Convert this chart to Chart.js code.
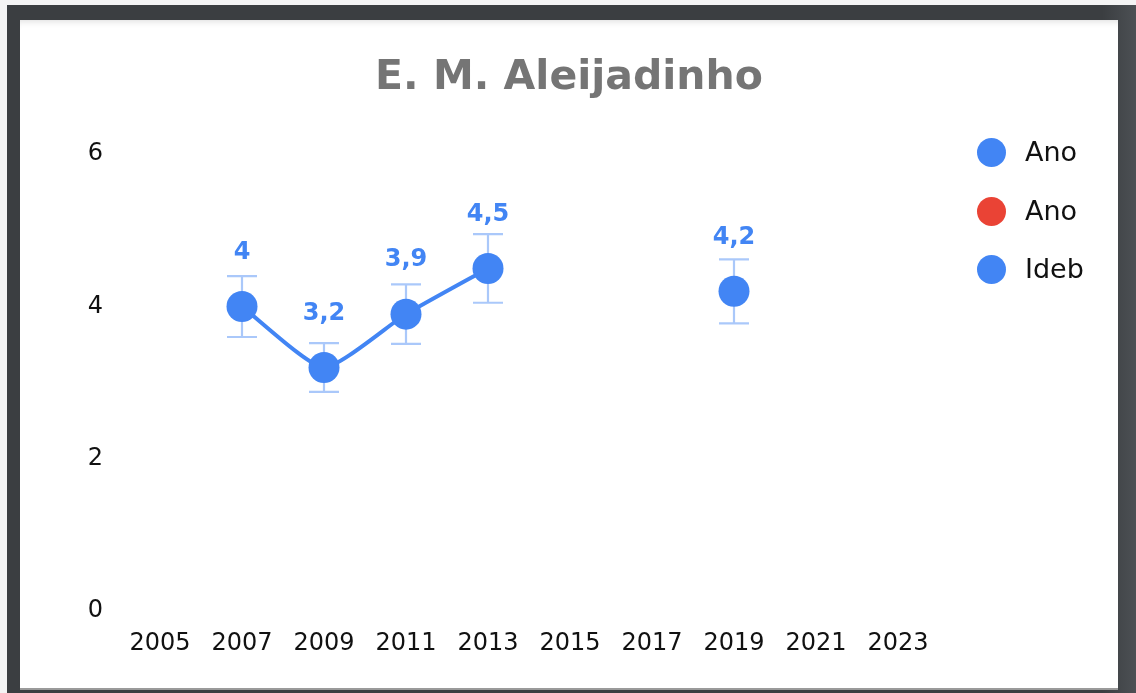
<!DOCTYPE html>
<html>
<head>
<meta charset="utf-8">
<script src="https://cdn.jsdelivr.net/npm/chart.js@4/dist/chart.umd.min.js"></script>
<style>
  html, body { margin: 0; padding: 0; background: #f4f4f4; width: 1136px; height: 693px; overflow: hidden; }
  .frame { position: absolute; left: 7px; top: 5px; right: 0; bottom: 0;
           background: linear-gradient(to right, #3b3e41 0%, #3b3e41 97%, #4c5054 100%); }
  .panel { position: absolute; left: 20px; top: 20px; width: 1098px; height: 670px; background: #fff;
           border-bottom: 2px solid #9a9a9a; box-sizing: border-box;
           box-shadow: inset 0 8px 8px -8px rgba(0,0,0,0.18); }
  canvas#c { position: absolute; left: 0; top: 0; }
  .legend { position: absolute; left: 957px; top: 98px; font-family: "DejaVu Sans", sans-serif; font-size: 27px; color: #111; }
  .legend .item { position: relative; height: 58.5px; }
  .legend .dot { position: absolute; left: 0; top: 20px; width: 29px; height: 29px; border-radius: 50%; }
  .legend .txt { position: absolute; left: 48px; top: 18px; line-height: 32px; white-space: nowrap; }
</style>
</head>
<body>
<div class="frame"></div>
<div class="panel">
  <canvas id="c" width="1098" height="670"></canvas>
  <div class="legend" id="legend"></div>
</div>
<script>
const chartTitle = 'E. M. Aleijadinho';
const years = ['2005', '2007', '2009', '2011', '2013', '2015', '2017', '2019', '2021', '2023'];
const idebValues = [null, 4, 3.2, 3.9, 4.5, null, null, 4.2, null, null];
const idebLow    = [null, 3.6, 2.88, 3.51, 4.05, null, null, 3.78, null, null];
const idebHigh   = [null, 4.4, 3.52, 4.29, 4.95, null, null, 4.62, null, null];
const yTicks = [0, 2, 4, 6];
const seriesLabels = ['Ano', 'Ano', 'Ideb'];
const seriesColors = ['#4285f4', '#ea4335', '#4285f4'];

const BLUE = '#4285f4';
const ERR = 'rgba(66,133,244,0.45)';

const errorBarsPlugin = {
  id: 'errorBars',
  beforeDatasetsDraw(chart) {
    const ctx = chart.ctx;
    const xs = chart.scales.x, ys = chart.scales.y;
    ctx.save();
    ctx.strokeStyle = ERR;
    ctx.lineWidth = 2.2;
    idebValues.forEach((v, i) => {
      if (v === null) return;
      const x = xs.getPixelForValue(i);
      const yl = ys.getPixelForValue(idebLow[i]);
      const yh = ys.getPixelForValue(idebHigh[i]);
      ctx.beginPath();
      ctx.moveTo(x, yl); ctx.lineTo(x, yh);
      ctx.moveTo(x - 15, yl); ctx.lineTo(x + 15, yl);
      ctx.moveTo(x - 15, yh); ctx.lineTo(x + 15, yh);
      ctx.stroke();
    });
    ctx.restore();
  },
  afterDatasetsDraw(chart) {
    const ctx = chart.ctx;
    const xs = chart.scales.x, ys = chart.scales.y;
    ctx.save();
    ctx.fillStyle = BLUE;
    ctx.font = 'bold 24px "DejaVu Sans", sans-serif';
    ctx.textAlign = 'center';
    ctx.textBaseline = 'middle';
    idebValues.forEach((v, i) => {
      if (v === null) return;
      const x = xs.getPixelForValue(i);
      const y = ys.getPixelForValue(v);
      ctx.fillText(String(v).replace('.', ','), x, y - 54);
    });
    ctx.restore();
  }
};

const chart = new Chart(document.getElementById('c'), {
  type: 'line',
  data: {
    labels: years,
    datasets: [
      { label: seriesLabels[0], data: [], borderColor: seriesColors[0], backgroundColor: seriesColors[0], pointStyle: 'circle' },
      { label: seriesLabels[1], data: [], borderColor: seriesColors[1], backgroundColor: seriesColors[1], pointStyle: 'circle' },
      { label: seriesLabels[2], data: idebValues, borderColor: seriesColors[2], backgroundColor: seriesColors[2],
        borderWidth: 4, pointRadius: 15.5, pointHoverRadius: 15.5, pointBorderWidth: 0,
        pointStyle: 'circle', tension: 0.18, spanGaps: false }
    ]
  },
  options: {
    responsive: false,
    animation: false,
    layout: { padding: { left: 0, right: 0, top: 0, bottom: 14 } },
    plugins: {
      legend: { display: false },
      tooltip: { enabled: false },
      title: {
        display: true, text: chartTitle, color: '#757575',
        font: { family: '"DejaVu Sans", sans-serif', size: 41, weight: 'bold' },
        padding: { top: 34, bottom: 51 }
      }
    },
    scales: {
      x: {
        offset: true,
        grid: { display: false, drawTicks: false },
        border: { display: false },
        ticks: { color: '#111', font: { family: '"DejaVu Sans", sans-serif', size: 24 }, padding: 18, maxRotation: 0, autoSkip: false }
      },
      y: {
        min: 0, max: 6,
        afterFit(scale) { scale.width = 99; },
        afterBuildTicks(scale) { scale.ticks = yTicks.map(v => ({ value: v })); },
        grid: { display: false, drawTicks: false },
        border: { display: false },
        ticks: { color: '#111', font: { family: '"DejaVu Sans", sans-serif', size: 24 }, padding: 16 }
      },
      yRight: {
        position: 'right',
        display: true,
        min: 0, max: 6,
        afterFit(scale) { scale.width = 179; },
        grid: { display: false, drawTicks: false },
        border: { display: false },
        ticks: { display: false }
      }
    }
  },
  plugins: [errorBarsPlugin]
});

// HTML legend built from the chart's own legend items
const legendEl = document.getElementById('legend');
const items = Chart.defaults.plugins.legend.labels.generateLabels(chart);
items.forEach(it => {
  const row = document.createElement('div');
  row.className = 'item';
  const dot = document.createElement('div');
  dot.className = 'dot';
  dot.style.background = it.fillStyle;
  const txt = document.createElement('div');
  txt.className = 'txt';
  txt.textContent = it.text;
  row.appendChild(dot); row.appendChild(txt);
  legendEl.appendChild(row);
});
</script>
</body>
</html>
